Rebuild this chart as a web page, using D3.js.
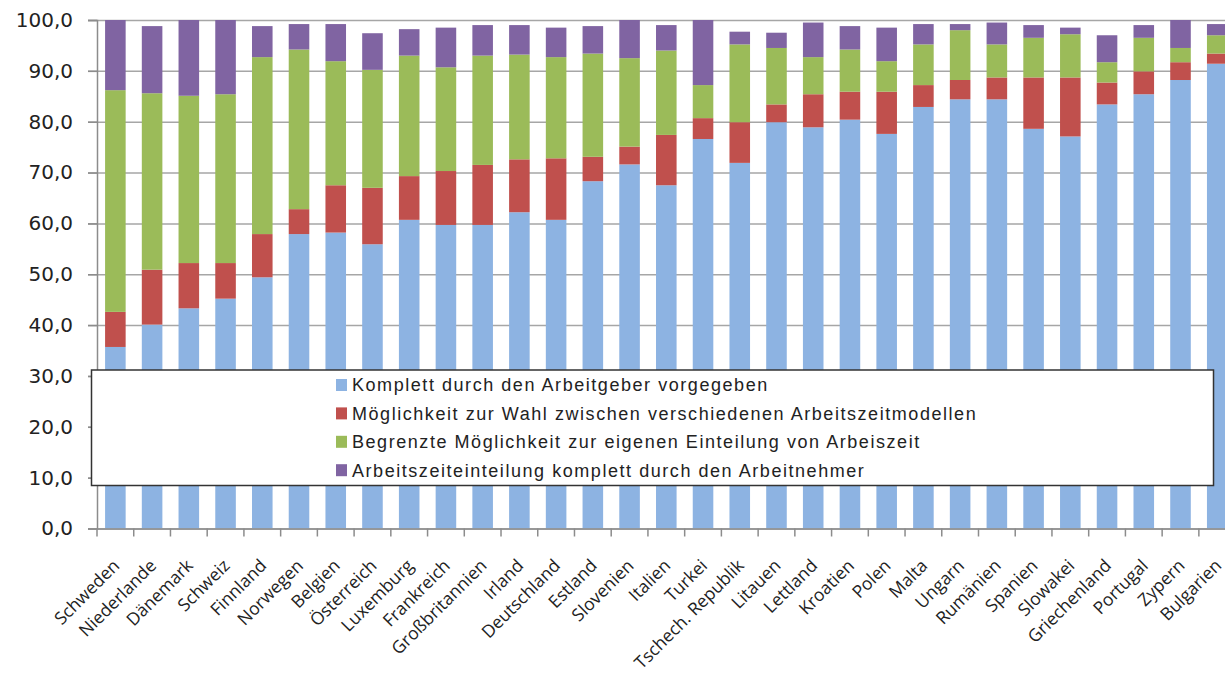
<!DOCTYPE html>
<html>
    <head>
        <meta charset="utf-8">
        <title>Arbeitszeit</title>
        <script src="https://d3js.org/d3.v7.min.js"></script>
        <style>
            body { margin: 0; background: #fff; }
            .gridlines line { stroke: #a6a6a6; stroke-width: 1.5; }
            .gridlines .domain { stroke: none; }
            .yAxis text { font-family: "DejaVu Sans", sans-serif; font-size: 20px; fill: #222; }
            .xAxis text { font-family: "Open Sans", sans-serif; font-size: 17.5px; fill: #222; }
            .legend text { font-family: "Liberation Sans", Arial, sans-serif; font-size: 18px; fill: #222; letter-spacing: 1.55px; }
        </style>
    </head>
    <body>
        <svg id="svg" width="1225" height="675"></svg>
        <script>
            // Data
            const countries = ["Schweden", "Niederlande", "Dänemark", "Schweiz", "Finnland", "Norwegen",
                "Belgien", "Österreich", "Luxemburg", "Frankreich", "Großbritannien", "Irland",
                "Deutschland", "Estland", "Slovenien", "Italien", "Turkei", "Tschech. Republik",
                "Litauen", "Lettland", "Kroatien", "Polen", "Malta", "Ungarn", "Rumänien", "Spanien",
                "Slowakei", "Griechenland", "Portugal", "Zypern", "Bulgarien"];

            const arbeitgeber = [35.7, 40.1, 43.3, 45.2, 49.4, 57.9, 58.2, 55.9, 60.7, 59.7, 59.7, 62.2,
                60.7, 68.3, 71.6, 67.5, 76.6, 71.9, 79.9, 78.9, 80.4, 77.6, 82.9, 84.4, 84.4, 78.6,
                77.1, 83.4, 85.4, 88.2, 91.4];
            const wahlModelle = [6.9, 10.8, 8.9, 7.0, 8.5, 4.9, 9.3, 11.1, 8.6, 10.6, 11.8, 10.4,
                12.1, 4.8, 3.5, 9.9, 4.1, 8.0, 3.5, 6.5, 5.5, 8.3, 4.3, 3.8, 4.3, 10.1,
                11.6, 4.3, 4.5, 3.5, 2.0];
            const begrenzt = [43.6, 34.7, 32.9, 33.2, 34.8, 31.4, 24.4, 23.2, 23.7, 20.4, 21.5, 20.6,
                19.9, 20.3, 17.4, 16.6, 6.5, 15.3, 11.1, 7.3, 8.3, 6.0, 8.0, 9.8, 6.5, 7.8,
                8.5, 4.0, 6.6, 2.8, 3.6];
            const arbeitnehmer = [13.8, 13.2, 14.9, 14.6, 6.1, 5.0, 7.3, 7.2, 5.2, 7.8, 6.0, 5.8,
                5.8, 5.4, 7.5, 5.0, 12.8, 2.5, 3.0, 6.8, 4.6, 6.6, 4.0, 1.2, 4.3, 2.5,
                1.3, 5.3, 2.5, 5.5, 2.2];

            const seriesNames = ["Komplett durch den Arbeitgeber vorgegeben",
                "Möglichkeit zur Wahl zwischen verschiedenen Arbeitszeitmodellen",
                "Begrenzte Möglichkeit zur eigenen Einteilung von Arbeiszeit",
                "Arbeitszeiteinteilung komplett durch den Arbeitnehmer"];
            const seriesColors = ["#8db3e2", "#c0504d", "#9bbb59", "#8064a2"];
            const yTicks = [0, 10, 20, 30, 40, 50, 60, 70, 80, 90, 100];

            const svg = d3.select("svg#svg");
            const margins = { top: 20, left: 97, bottom: 146.5 };
            const plotRight = 1235.6;
            const chartBottom = 675 - margins.bottom;

            // table for the stack
            const table = countries.map((c, i) => ({
                country: c,
                s0: arbeitgeber[i], s1: wahlModelle[i], s2: begrenzt[i], s3: arbeitnehmer[i]
            }));
            const stacked = d3.stack().keys(["s0", "s1", "s2", "s3"])(table);

            // Scales
            const xScale = d3.scaleBand()
                             .domain(countries)
                             .range([margins.left, plotRight])
                             .paddingInner(0.44)
                             .paddingOuter(0.22);
            const yScale = d3.scaleLinear()
                             .domain([0, 100])
                             .range([chartBottom, margins.top]);

            // Gridlines
            const gridLines = d3.axisLeft(yScale)
                                .tickValues(yTicks)
                                .tickSize(-(plotRight - margins.left + 9))
                                .tickFormat("");
            svg.append("g")
               .attr("class", "gridlines")
               .attr("transform", `translate(${margins.left - 9},0)`)
               .call(gridLines);

            // Bars
            svg.append("g")
               .selectAll("g")
               .data(stacked)
               .join("g")
               .attr("fill", (d, i) => seriesColors[i])
               .selectAll("rect")
               .data(d => d)
               .join("rect")
               .attr("x", d => xScale(d.data.country))
               .attr("width", xScale.bandwidth())
               .attr("y", d => yScale(d[1]))
               .attr("height", d => yScale(d[0]) - yScale(d[1]));

            // Y axis
            const leftAxis = d3.axisLeft(yScale)
                               .tickValues(yTicks)
                               .tickSize(9)
                               .tickPadding(15)
                               .tickFormat(d => d3.format(".1f")(d).replace(".", ","));
            const yAxisG = svg.append("g")
                              .attr("class", "yAxis")
                              .attr("transform", `translate(${margins.left},0)`)
                              .call(leftAxis);
            yAxisG.select(".domain").attr("stroke", "#8c8c8c").attr("stroke-width", 1.5);
            yAxisG.selectAll(".tick line").attr("stroke", "#8c8c8c").attr("stroke-width", 1.5);

            // X axis
            const bottomAxis = d3.axisBottom(xScale).tickSize(0).tickFormat("");
            const xAxisG = svg.append("g")
                              .attr("class", "xAxis")
                              .attr("transform", `translate(0,${chartBottom})`)
                              .call(bottomAxis);
            xAxisG.select(".domain").attr("stroke", "#8c8c8c").attr("stroke-width", 1.5);
            // tick marks between categories
            xAxisG.selectAll("line.sep")
                  .data(countries)
                  .join("line")
                  .attr("class", "sep")
                  .attr("x1", d => xScale(d) - xScale.step() * 0.22)
                  .attr("x2", d => xScale(d) - xScale.step() * 0.22)
                  .attr("y1", 0).attr("y2", 8)
                  .attr("stroke", "#8c8c8c").attr("stroke-width", 1.5);
            xAxisG.selectAll("text.lbl")
                  .data(countries)
                  .join("text")
                  .attr("class", "lbl")
                  .attr("text-anchor", "end")
                  .attr("transform", d => `translate(${xScale(d) + xScale.bandwidth() / 2 - 4},${29}) rotate(-45)`)
                  .attr("dy", "0.75em")
                  .text(d => d);

            // Legend
            const legend = svg.append("g").attr("class", "legend");
            legend.append("rect")
                  .attr("x", 91.5).attr("y", 370)
                  .attr("width", 1122).attr("height", 115.5)
                  .attr("fill", "#fff")
                  .attr("stroke", "#333").attr("stroke-width", 1.5);
            const items = legend.selectAll("g.item")
                                .data(seriesNames)
                                .join("g")
                                .attr("class", "item")
                                .attr("transform", (d, i) => `translate(336,${385 + i * 28.4})`);
            items.append("rect")
                 .attr("x", 0).attr("y", -6)
                 .attr("width", 11).attr("height", 12)
                 .attr("fill", (d, i) => seriesColors[i]);
            items.append("text")
                 .attr("x", 16)
                 .attr("dy", "0.35em")
                 .text(d => d);
        </script>
    </body>
</html>
